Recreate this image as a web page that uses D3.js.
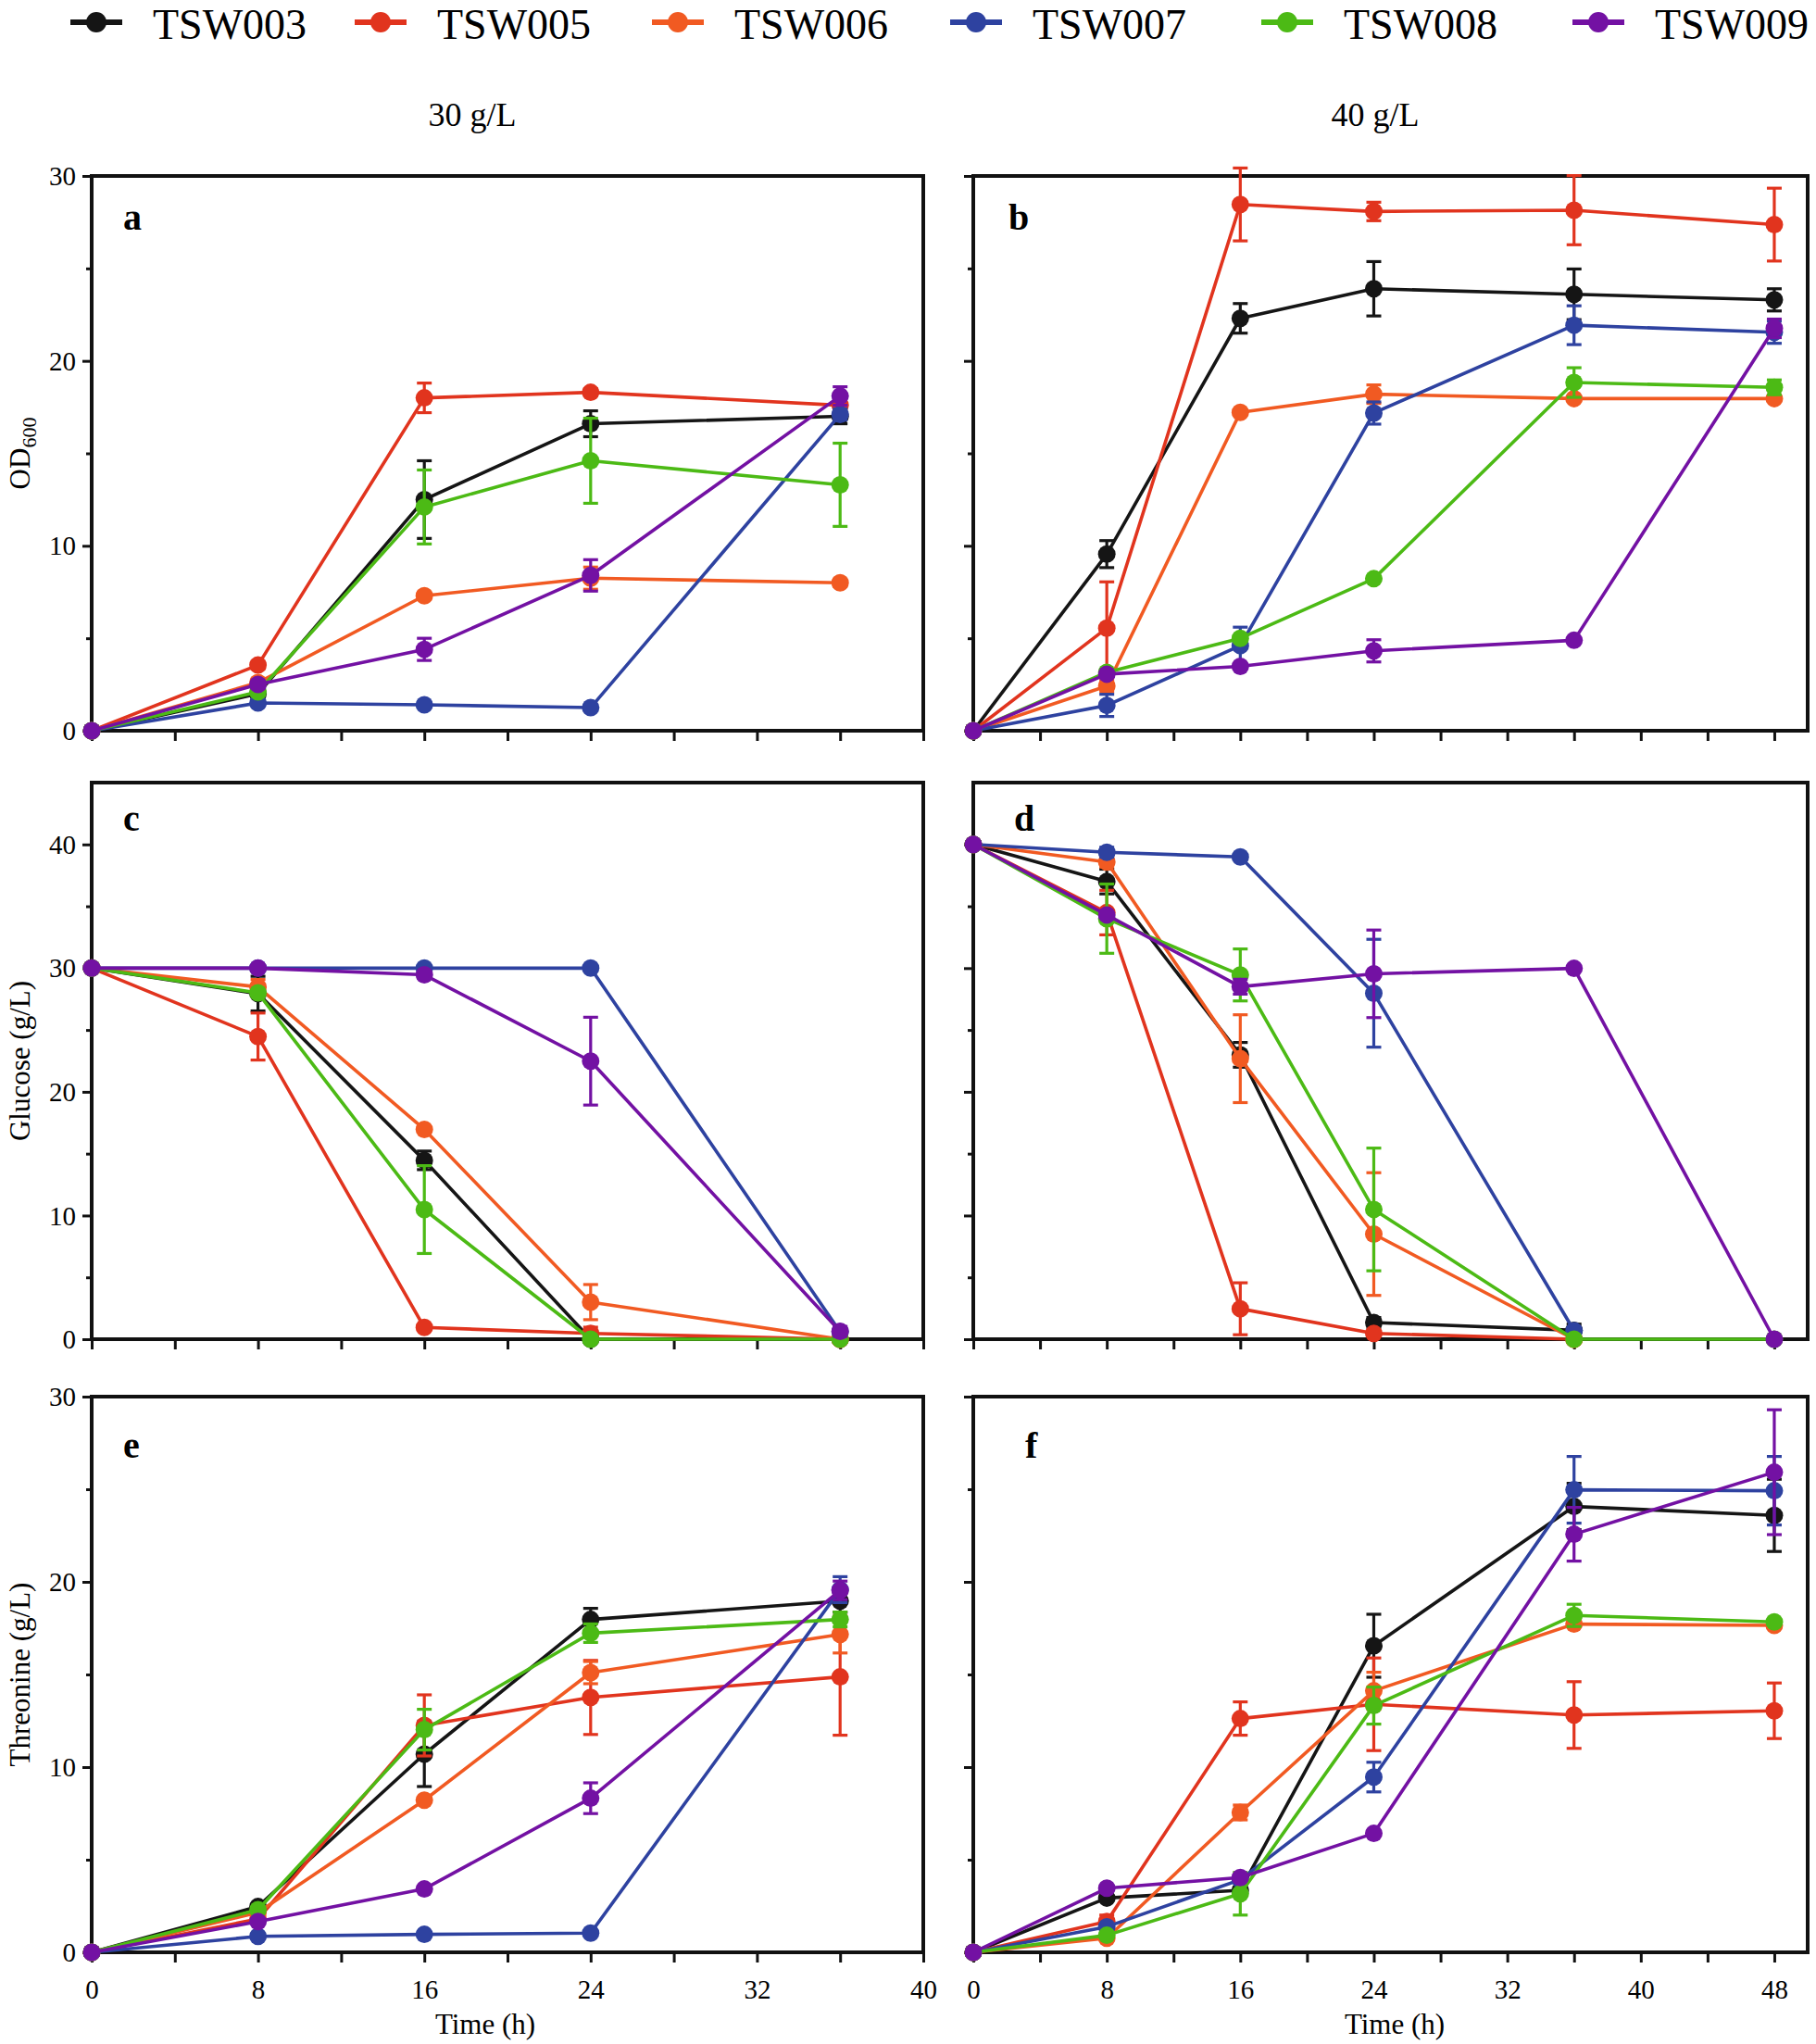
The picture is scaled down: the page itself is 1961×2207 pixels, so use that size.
<!DOCTYPE html>
<html><head><meta charset="utf-8">
<script src="https://cdn.jsdelivr.net/npm/d3@7"></script>
<style>body{margin:0;background:#fff} svg{display:block}</style>
</head><body><svg id="c" width="1961" height="2207"></svg>
<script>
// ---------- DATA ----------
const strains = ["TSW003","TSW005","TSW006","TSW007","TSW008","TSW009"];
const colors  = ["#151515","#e1341e","#f15a22","#2e42a0","#4cba15","#7311a3"];
const time30 = [0, 8, 16, 24, 36];
const time40 = [0, 8, 16, 24, 36, 48];
const xTickLabels30 = [0, 8, 16, 24, 32, 40];
const xTickLabels40 = [0, 8, 16, 24, 32, 40, 48];
const columnTitles = ["30 g/L", "40 g/L"];
const panelLetters = ["a","b","c","d","e","f"];

// OD600, 30 g/L (rows = strains)
const od30 = [
  [0, 2.0, 12.5, 16.6, 17.0],
  [0, 3.55, 18.0, 18.3, 17.6],
  [0, 2.6, 7.3, 8.25, 8.0],
  [0, 1.5, 1.4, 1.25, 17.1],
  [0, 2.1, 12.1, 14.6, 13.3],
  [0, 2.5, 4.4, 8.4, 18.1]
];
const od30Err = [
  [0, 0.2, 2.1, 0.7, 0.4],
  [0, 0.2, 0.8, 0.2, 0.5],
  [0, 0.2, 0.2, 0.6, 0.2],
  [0, 0.1, 0.1, 0.1, 0.3],
  [0, 0.2, 2.0, 2.3, 2.25],
  [0, 0.2, 0.6, 0.85, 0.5]
];
// OD600, 40 g/L
const od40 = [
  [0, 9.55, 22.3, 23.9, 23.6, 23.3],
  [0, 5.55, 28.46, 28.08, 28.15, 27.37],
  [0, 2.42, 17.22, 18.2, 17.96, 17.96],
  [0, 1.37, 4.6, 17.18, 21.93, 21.55],
  [0, 3.16, 5.0, 8.22, 18.83, 18.57],
  [0, 3.06, 3.48, 4.32, 4.89, 21.76]
];
const od40Err = [
  [0, 0.73, 0.8, 1.47, 1.37, 0.6],
  [0, 2.5, 1.97, 0.5, 1.87, 1.97],
  [0, 0.3, 0, 0.5, 0, 0],
  [0, 0.6, 1.0, 0.6, 1.05, 0.6],
  [0, 0, 0, 0, 0.8, 0.4],
  [0, 0, 0, 0.6, 0, 0.5]
];
// Glucose, 30 g/L
const glc30 = [
  [30, 27.94, 14.46, 0, 0],
  [30, 24.47, 0.95, 0.47, 0],
  [30, 28.48, 16.96, 3.0, 0],
  [30, 30, 30, 30, 0.6],
  [30, 28.0, 10.48, 0, 0],
  [30, 30, 29.46, 22.48, 0.63]
];
const glc30Err = [
  [0, 1.4, 0.75, 0, 0],
  [0, 1.9, 0, 0.5, 0],
  [0, 0.6, 0, 1.42, 0],
  [0, 0, 0, 0, 0.3],
  [0, 0, 3.55, 0, 0],
  [0, 0, 0.3, 3.55, 0.4]
];
// Glucose, 40 g/L
const glc40 = [
  [40, 37.0, 22.99, 1.35, 0.72, null],
  [40, 34.49, 2.46, 0.47, 0, null],
  [40, 38.58, 22.68, 8.5, 0, null],
  [40, 39.37, 38.99, 27.97, 0.69, null],
  [40, 34.0, 29.45, 10.49, 0, 0],
  [40, 34.3, 28.5, 29.54, 29.98, 0]
];
const glc40Err = [
  [0, 1.0, 1.0, 0.4, 0.5, 0],
  [0, 1.8, 2.1, 0, 0, 0],
  [0, 0.4, 3.55, 4.96, 0, 0],
  [0, 0.4, 0, 4.36, 0, 0],
  [0, 2.8, 2.1, 4.96, 0, 0],
  [0, 0, 0.6, 3.54, 0, 0]
];
// Threonine, 30 g/L
const thr30 = [
  [0, 2.47, 10.7, 17.97, 18.96],
  [0, 1.8, 12.25, 13.76, 14.87],
  [0, 2.15, 8.21, 15.1, 17.16],
  [0, 0.86, 0.97, 1.04, 19.58],
  [0, 2.3, 12.02, 17.23, 17.97],
  [0, 1.66, 3.42, 8.32, 19.54]
];
const thr30Err = [
  [0, 0, 1.75, 0.6, 0.6],
  [0, 0, 1.65, 2.0, 3.15],
  [0, 0, 0, 0.6, 1.0],
  [0, 0, 0, 0, 0.7],
  [0, 0, 1.1, 0.5, 0.4],
  [0, 0, 0, 0.83, 0.5]
];
// Threonine, 40 g/L
const thr40 = [
  [0, 2.93, 3.35, 16.55, 24.07, 23.59],
  [0, 1.66, 12.62, 13.39, 12.81, 13.04],
  [0, 0.76, 7.55, 14.12, 17.72, 17.65],
  [0, 1.38, 3.92, 9.46, 24.97, 24.92],
  [0, 0.92, 3.16, 13.32, 18.19, 17.84],
  [0, 3.46, 4.04, 6.42, 22.57, 25.92]
];
const thr40Err = [
  [0, 0, 0, 1.7, 1.25, 1.95],
  [0, 0.35, 0.9, 2.5, 1.8, 1.5],
  [0, 0, 0.4, 1.0, 0, 0],
  [0, 0, 0, 0.8, 1.8, 1.85],
  [0, 0, 1.15, 1.0, 0.6, 0],
  [0, 0, 0, 0, 1.45, 3.37]
];

// ---------- LAYOUT ----------
const FONT = "'Liberation Serif','Times New Roman',Times,serif";
const svg = d3.select("#c");
const cols = [
  {x0: 99,   x1: 997,  dom: [0, 40], ticks: d3.range(0, 41, 4), labels: xTickLabels30, times: time30},
  {x0: 1051, x1: 1952, dom: [0, 50], ticks: d3.range(0, 49, 4), labels: xTickLabels40, times: time40}
];
const rows = [
  {y0: 190, y1: 789,  max: 30, major: [0,10,20,30],    minor: [5,15,25],          title: "OD",        letterDy: 58},
  {y0: 845, y1: 1446, max: 45, major: [0,10,20,30,40], minor: [5,15,25,35],       title: "Glucose (g/L)",   letterDy: 52},
  {y0: 1508,y1: 2108, max: 30, major: [0,10,20,30],    minor: [5,15,25],          title: "Threonine (g/L)", letterDy: 66}
];
const letterDx = [34, 38, 34, 44, 34, 56];
const panelData = [
  [od30, od30Err], [od40, od40Err],
  [glc30, glc30Err], [glc40, glc40Err],
  [thr30, thr30Err], [thr40, thr40Err]
];

// ---------- LEGEND ----------
const legendX = [76, 383, 704, 1026, 1362, 1698];
const lg = svg.append("g");
strains.forEach((s, i) => {
  const g = lg.append("g").attr("transform", `translate(${legendX[i]},24)`);
  g.append("line").attr("x1", 0).attr("x2", 56).attr("y1", 0).attr("y2", 0)
    .attr("stroke", colors[i]).attr("stroke-width", 6);
  g.append("circle").attr("cx", 28).attr("cy", 0).attr("r", 11).attr("fill", colors[i]);
  g.append("text").attr("x", 89).attr("y", 18).text(s)
    .attr("font-family", FONT).attr("font-size", 46).attr("fill", "#000");
});

// column titles
[510, 1485].forEach((cx, i) => {
  svg.append("text").attr("x", cx).attr("y", 136).attr("text-anchor", "middle")
    .attr("font-family", FONT).attr("font-size", 36).text(columnTitles[i]);
});

// ---------- PANELS ----------
for (let r = 0; r < 3; r++) {
  for (let c = 0; c < 2; c++) {
    const idx = r * 2 + c;
    const col = cols[c], row = rows[r];
    const [vals, errs] = panelData[idx];
    const x = d3.scaleLinear().domain(col.dom).range([col.x0, col.x1]);
    const y = d3.scaleLinear().domain([0, row.max]).range([row.y1, row.y0]);
    const g = svg.append("g");

    // y axis major
    const yMaj = g.append("g").attr("transform", `translate(${col.x0},0)`)
      .call(d3.axisLeft(y).tickValues(row.major).tickSize(10).tickPadding(7)
        .tickFormat(c === 0 ? d3.format("d") : () => ""));
    const yMin = g.append("g").attr("transform", `translate(${col.x0},0)`)
      .call(d3.axisLeft(y).tickValues(row.minor).tickSize(6).tickFormat(() => ""));
    // x axis
    const xAx = g.append("g").attr("transform", `translate(0,${row.y1})`)
      .call(d3.axisBottom(x).tickValues(col.ticks).tickSize(11).tickPadding(18)
        .tickFormat(d => (r === 2 && col.labels.includes(d)) ? d : ""));
    [yMaj, yMin, xAx].forEach(a => {
      a.select(".domain").remove();
      a.selectAll(".tick line").attr("stroke", "#111").attr("stroke-width", 3);
      a.selectAll(".tick text").attr("font-family", FONT).attr("font-size", 29).attr("fill", "#000");
    });
    yMaj.selectAll(".tick text").attr("dy", "0.33em");

    // frame
    g.append("rect").attr("x", col.x0).attr("y", row.y0)
      .attr("width", col.x1 - col.x0).attr("height", row.y1 - row.y0)
      .attr("fill", "none").attr("stroke", "#111").attr("stroke-width", 4);

    // panel letter
    g.append("text").attr("x", col.x0 + letterDx[idx]).attr("y", row.y0 + row.letterDy)
      .attr("font-family", FONT).attr("font-weight", "bold").attr("font-size", 40)
      .text(panelLetters[idx]);

    // series
    const line = d3.line().defined(d => d.v !== null).x(d => x(d.t)).y(d => y(d.v));
    strains.forEach((s, si) => {
      const pts = col.times.map((t, k) => ({t, v: vals[si][k], e: errs[si][k]}))
        .filter(d => d.v !== null);
      const sg = g.append("g");
      sg.append("path").datum(pts).attr("d", line).attr("fill", "none")
        .attr("stroke", colors[si]).attr("stroke-width", 3.6).attr("stroke-linejoin", "round");
      const eb = sg.selectAll(".eb").data(pts.filter(d => d.e > 0)).join("g")
        .attr("stroke", colors[si]).attr("stroke-width", 3.2);
      eb.append("line").attr("x1", d => x(d.t)).attr("x2", d => x(d.t))
        .attr("y1", d => y(d.v - d.e)).attr("y2", d => y(d.v + d.e));
      eb.append("line").attr("x1", d => x(d.t) - 8).attr("x2", d => x(d.t) + 8)
        .attr("y1", d => y(d.v + d.e)).attr("y2", d => y(d.v + d.e));
      eb.append("line").attr("x1", d => x(d.t) - 8).attr("x2", d => x(d.t) + 8)
        .attr("y1", d => y(d.v - d.e)).attr("y2", d => y(d.v - d.e));
      sg.selectAll("circle").data(pts).join("circle")
        .attr("cx", d => x(d.t)).attr("cy", d => y(d.v)).attr("r", 9.5)
        .attr("fill", colors[si]);
    });

    // y axis title (left column only)
    if (c === 0) {
      const cy = (row.y0 + row.y1) / 2;
      const t = svg.append("text")
        .attr("transform", `translate(32,${cy}) rotate(-90)`)
        .attr("text-anchor", "middle").attr("font-family", FONT).attr("font-size", 31);
      if (r === 0) {
        t.append("tspan").text("OD");
        t.append("tspan").attr("font-size", 22).attr("dy", 7).text("600");
      } else {
        t.text(row.title);
      }
    }
    // x axis title (bottom row)
    if (r === 2) {
      svg.append("text").attr("x", c === 0 ? 524 : 1506).attr("y", 2196)
        .attr("text-anchor", "middle").attr("font-family", FONT).attr("font-size", 31)
        .text("Time (h)");
    }
  }
}
</script>
</body></html>
